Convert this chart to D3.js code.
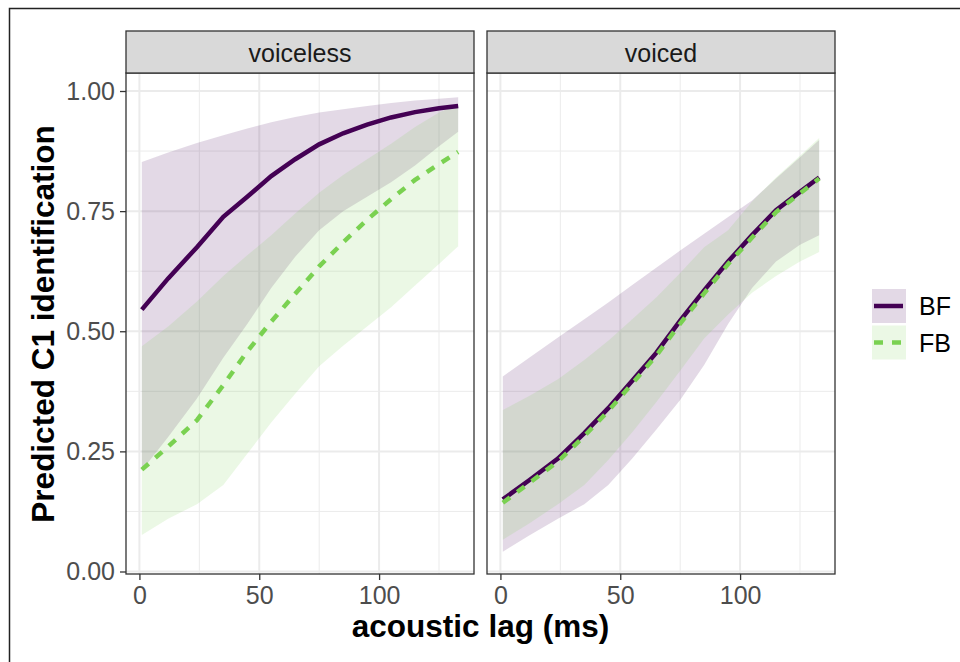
<!DOCTYPE html>
<html>
<head>
<meta charset="utf-8">
<title>Predicted C1 identification</title>
<script src="https://cdn.jsdelivr.net/npm/d3@7"></script>
<style>
  body { margin: 0; background: #fff; }
  svg text { font-family: "Liberation Sans", Arial, Helvetica, sans-serif; }
</style>
</head>
<body>
<div id="chart"></div>
<script>
var lag = [1, 12, 24, 35, 45, 55, 65, 75, 85, 95, 105, 115, 125, 133];
var panels = ["voiceless", "voiced"];
var groups = ["BF", "FB"];
var xTicks = [0, 50, 100];
var yTicks = [0, 0.25, 0.5, 0.75, 1];

// voiceless
var voicelessBF   = [0.545, 0.61, 0.675, 0.738, 0.78, 0.823, 0.858, 0.889, 0.912, 0.93, 0.945, 0.956, 0.964, 0.969];
var voicelessBFlo = [0.21, 0.28, 0.36, 0.445, 0.515, 0.59, 0.655, 0.71, 0.75, 0.78, 0.81, 0.845, 0.885, 0.915];
var voicelessBFhi = [0.852, 0.872, 0.892, 0.908, 0.922, 0.935, 0.946, 0.955, 0.962, 0.969, 0.975, 0.98, 0.984, 0.987];
var voicelessFB   = [0.212, 0.26, 0.315, 0.388, 0.458, 0.52, 0.578, 0.635, 0.685, 0.732, 0.775, 0.815, 0.848, 0.873];
var voicelessFBlo = [0.076, 0.11, 0.14, 0.18, 0.245, 0.31, 0.37, 0.427, 0.47, 0.51, 0.55, 0.595, 0.64, 0.677];
var voicelessFBhi = [0.469, 0.51, 0.562, 0.615, 0.658, 0.70, 0.745, 0.788, 0.825, 0.858, 0.89, 0.925, 0.955, 0.972];

// voiced
var voicedBF   = [0.15, 0.19, 0.235, 0.288, 0.34, 0.397, 0.455, 0.522, 0.585, 0.645, 0.70, 0.752, 0.79, 0.82];
var voicedBFlo = [0.041, 0.075, 0.11, 0.14, 0.18, 0.235, 0.295, 0.357, 0.43, 0.515, 0.59, 0.645, 0.68, 0.70];
var voicedBFhi = [0.406, 0.445, 0.487, 0.525, 0.56, 0.596, 0.632, 0.668, 0.703, 0.738, 0.772, 0.818, 0.862, 0.898];
var voicedFB   = [0.143, 0.184, 0.229, 0.282, 0.334, 0.391, 0.449, 0.516, 0.579, 0.64, 0.695, 0.748, 0.787, 0.818];
var voicedFBlo = [0.066, 0.1, 0.14, 0.18, 0.232, 0.29, 0.352, 0.418, 0.485, 0.535, 0.58, 0.615, 0.645, 0.665];
var voicedFBhi = [0.336, 0.365, 0.4, 0.44, 0.48, 0.525, 0.57, 0.621, 0.675, 0.71, 0.77, 0.82, 0.865, 0.902];

var colors = {BF: "#440154", FB: "#7AD151"};
var dashes = {BF: null, FB: "9,9"};

function rows(fit, lo, hi){
  return lag.map(function(d, i){ return {x: d, y: fit[i], lo: lo[i], hi: hi[i]}; });
}
var data = {
  voiceless: {BF: rows(voicelessBF, voicelessBFlo, voicelessBFhi), FB: rows(voicelessFB, voicelessFBlo, voicelessFBhi)},
  voiced:    {BF: rows(voicedBF, voicedBFlo, voicedBFhi),       FB: rows(voicedFB, voicedFBlo, voicedFBhi)}
};

var W = 960, H = 662;
var svg = d3.select("#chart").append("svg").attr("width", W).attr("height", H);

// outer frame (cropped figure border)
svg.append("rect").attr("x", 9.5).attr("y", 8.5).attr("width", 1000).attr("height", 700)
  .attr("fill", "none").attr("stroke", "#222").attr("stroke-width", 1.5);

var panelLeft = [126, 487], panelW = 348;
var panelTop = 73, panelBottom = 574, stripTop = 31;

var y = d3.scaleLinear().domain([0, 1]).range([571.5, 91]);

panels.forEach(function(p, pi){
  var x0 = panelLeft[pi];
  var x = d3.scaleLinear().domain([-5.6, 139.6]).range([x0, x0 + panelW]);
  var g = svg.append("g");

  g.append("rect").attr("x", x0).attr("y", panelTop).attr("width", panelW).attr("height", panelBottom - panelTop).attr("fill", "#fff");

  // minor grid
  g.selectAll(".vminor").data([25, 75, 125]).enter().append("line")
    .attr("x1", function(d){ return x(d); }).attr("x2", function(d){ return x(d); })
    .attr("y1", panelTop).attr("y2", panelBottom).attr("stroke", "#EBEBEB").attr("stroke-width", 1);
  g.selectAll(".hminor").data([0.125, 0.375, 0.625, 0.875]).enter().append("line")
    .attr("y1", function(d){ return y(d); }).attr("y2", function(d){ return y(d); })
    .attr("x1", x0).attr("x2", x0 + panelW).attr("stroke", "#EBEBEB").attr("stroke-width", 1);
  // major grid
  g.selectAll(".vmajor").data(xTicks).enter().append("line")
    .attr("x1", function(d){ return x(d); }).attr("x2", function(d){ return x(d); })
    .attr("y1", panelTop).attr("y2", panelBottom).attr("stroke", "#EBEBEB").attr("stroke-width", 2);
  g.selectAll(".hmajor").data(yTicks).enter().append("line")
    .attr("y1", function(d){ return y(d); }).attr("y2", function(d){ return y(d); })
    .attr("x1", x0).attr("x2", x0 + panelW).attr("stroke", "#EBEBEB").attr("stroke-width", 2);

  var area = d3.area().x(function(d){ return x(d.x); }).y0(function(d){ return y(d.lo); }).y1(function(d){ return y(d.hi); });
  var line = d3.line().x(function(d){ return x(d.x); }).y(function(d){ return y(d.y); });

  groups.forEach(function(k){
    g.append("path").attr("d", area(data[p][k])).attr("fill", colors[k]).attr("fill-opacity", 0.15);
  });
  groups.forEach(function(k){
    g.append("path").attr("d", line(data[p][k])).attr("fill", "none")
      .attr("stroke", colors[k]).attr("stroke-width", 4.5)
      .attr("stroke-dasharray", dashes[k]);
  });

  // panel border
  g.append("rect").attr("x", x0).attr("y", panelTop).attr("width", panelW).attr("height", panelBottom - panelTop)
    .attr("fill", "none").attr("stroke", "#333").attr("stroke-width", 1.3);

  // strip
  g.append("rect").attr("x", x0).attr("y", stripTop).attr("width", panelW).attr("height", panelTop - stripTop)
    .attr("fill", "#D9D9D9").attr("stroke", "#333").attr("stroke-width", 1.3);
  g.append("text").attr("x", x0 + panelW / 2).attr("y", 61.5).attr("text-anchor", "middle")
    .attr("font-size", 25).attr("fill", "#1A1A1A").text(p);

  // x axis
  var xa = g.append("g").attr("transform", "translate(0," + panelBottom + ")")
    .call(d3.axisBottom(x).tickValues(xTicks).tickSize(6).tickPadding(6).tickFormat(d3.format("d")));
  xa.select(".domain").remove();
  xa.selectAll("line").attr("stroke", "#333").attr("stroke-width", 1.3);
  xa.selectAll("text").attr("font-size", 25).attr("fill", "#4D4D4D")
    .attr("font-family", "'Liberation Sans', Arial, sans-serif");

  if (pi === 0) {
    var ya = g.append("g").attr("transform", "translate(" + x0 + ",0)")
      .call(d3.axisLeft(y).tickValues(yTicks).tickSize(6).tickPadding(5).tickFormat(d3.format(".2f")));
    ya.select(".domain").remove();
    ya.selectAll("line").attr("stroke", "#333").attr("stroke-width", 1.3);
    ya.selectAll("text").attr("font-size", 25).attr("fill", "#4D4D4D")
      .attr("font-family", "'Liberation Sans', Arial, sans-serif");
  }
});

// axis titles
svg.append("text").attr("x", 480.5).attr("y", 637).attr("text-anchor", "middle")
  .attr("font-size", 31.5).attr("font-weight", "bold").attr("fill", "#000").text("acoustic lag (ms)");
svg.append("text").attr("transform", "translate(53.5,324) rotate(-90)").attr("text-anchor", "middle")
  .attr("font-size", 31.5).attr("font-weight", "bold").attr("fill", "#000").text("Predicted C1 identification");

// legend
var legend = svg.append("g").attr("transform", "translate(872,289)");
groups.forEach(function(k, i){
  var row = legend.append("g").attr("transform", "translate(0," + (i * 36.5) + ")");
  row.append("rect").attr("width", 34).attr("height", 34).attr("fill", colors[k]).attr("fill-opacity", 0.15);
  row.append("line").attr("x1", 2).attr("x2", 31).attr("y1", 17).attr("y2", 17)
    .attr("stroke", colors[k]).attr("stroke-width", 4.5).attr("stroke-dasharray", dashes[k]);
  row.append("text").attr("x", 47).attr("y", 17).attr("dy", "0.36em")
    .attr("font-size", 25).attr("fill", "#000").text(k);
});
</script>
</body>
</html>
